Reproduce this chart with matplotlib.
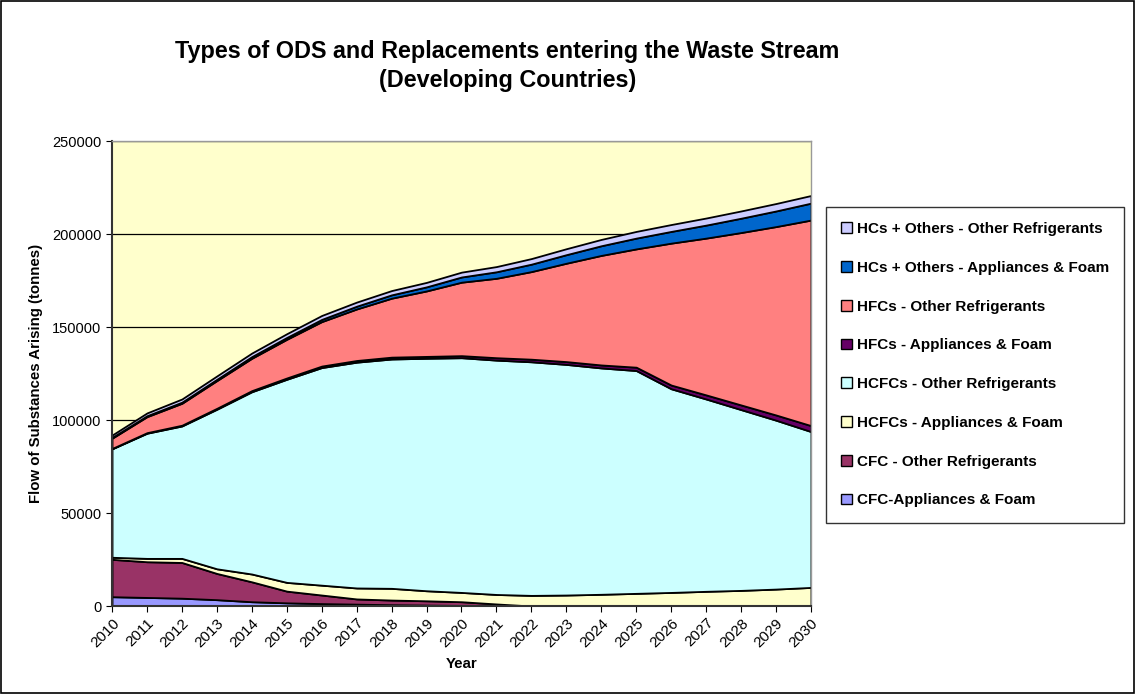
import numpy as np
import matplotlib

matplotlib.use("Agg")
import matplotlib.pyplot as plt
from matplotlib.patches import Rectangle

plt.rcParams["font.family"] = ["Liberation Sans", "DejaVu Sans"]

years = list(range(2010, 2031))

# tonnes por año, de abajo hacia arriba en la pila
cfc_appl = [5000, 4600, 4200, 3400, 2300, 1700, 1300, 1000, 700, 500, 300,
            100, 0, 0, 0, 0, 0, 0, 0, 0, 0]
cfc_other = [20100, 19200, 19200, 14100, 10700, 6300, 4600, 2800, 2500, 2300, 2000,
             1000, 0, 0, 0, 0, 0, 0, 0, 0, 0]
hcfc_appl = [1100, 1800, 2200, 2500, 4200, 4700, 5300, 5900, 6300, 5400, 5000,
             5100, 5700, 5900, 6300, 6800, 7300, 7900, 8400, 9100, 10000]
hcfc_other = [58300, 67300, 71200, 85800, 98000, 109200, 117000, 121400, 123300, 125000, 126200,
              126000, 125600, 124000, 121700, 119800, 109500, 103400, 97200, 90800, 83800]
hfc_appl = [200, 300, 400, 500, 600, 700, 800, 900, 1000, 1000, 1100,
            1300, 1400, 1500, 1600, 1800, 2000, 2200, 2500, 2800, 3200]
hfc_other = [5500, 8600, 11800, 14900, 17400, 20800, 23900, 27700, 31700, 35200, 39500,
             42700, 47100, 52900, 58900, 63600, 76300, 84300, 92700, 101300, 110500]
hc_appl = [400, 500, 600, 700, 900, 1000, 1200, 1500, 1800, 2200, 2800,
           3500, 4000, 4600, 5200, 5800, 6300, 7000, 7700, 8400, 9100]
hc_other = [1300, 1500, 1700, 1800, 1900, 2000, 2100, 2200, 2300, 2400, 2600,
            2800, 3000, 3200, 3400, 3600, 3700, 3800, 3900, 4000, 4100]

labels = ["CFC-Appliances & Foam", "CFC - Other Refrigerants",
          "HCFCs - Appliances & Foam", "HCFCs - Other Refrigerants",
          "HFCs - Appliances & Foam", "HFCs - Other Refrigerants",
          "HCs + Others - Appliances & Foam", "HCs + Others - Other Refrigerants"]
colores = ["#9999FF", "#993366", "#FFFFCC", "#CCFFFF",
           "#660066", "#FF8080", "#0066CC", "#CCCCFF"]

fig = plt.figure(figsize=(11.35, 6.94), dpi=100)
ax = fig.add_axes([0.0987, 0.1268, 0.6158, 0.67])
ax.set_facecolor("#FFFFCC")

series = [cfc_appl, cfc_other, hcfc_appl, hcfc_other, hfc_appl, hfc_other, hc_appl, hc_other]
ax.stackplot(years, *series, colors=colores, labels=labels,
             edgecolor="black", linewidth=1.3, zorder=2)

ax.set_xlim(2010, 2030)
ax.set_ylim(0, 250000)
ax.set_yticks(np.arange(0, 250001, 50000))
ax.set_xticks(years)
ax.set_xticklabels([str(y) for y in years], rotation=45, ha="right",
                   rotation_mode="anchor", fontsize=11)
ax.tick_params(axis="y", labelsize=10.5, direction="out", length=4)
ax.tick_params(axis="x", direction="out", length=4, pad=3)
ax.yaxis.grid(True, color="black", lw=0.9, zorder=0)
ax.set_axisbelow(True)

for s in ["top", "right"]:
    ax.spines[s].set_color("#999999")
    ax.spines[s].set_linewidth(1)
for s in ["left", "bottom"]:
    ax.spines[s].set_color("#333333")
    ax.spines[s].set_linewidth(1.5)

ax.set_xlabel("Year", fontsize=10.8, fontweight="bold", labelpad=5)
ax.set_ylabel("Flow of Substances Arising (tonnes)", fontsize=10.8, fontweight="bold",
              labelpad=7)

fig.text(0.447, 0.905, "Types of ODS and Replacements entering the Waste Stream\n"
         "(Developing Countries)", ha="center", va="center", fontsize=16.8,
         fontweight="bold", linespacing=1.3)

h, l = ax.get_legend_handles_labels()
leg = fig.legend(h[::-1], l[::-1], loc="upper left", bbox_to_anchor=(0.7278, 0.702),
                 frameon=True, fancybox=False, edgecolor="black",
                 prop={"weight": "bold", "size": 11}, handlelength=0.7, handleheight=0.7,
                 handletextpad=0.3, labelspacing=1.62, borderpad=1.0, borderaxespad=0)
leg.get_frame().set_linewidth(1)
for t in leg.get_patches():
    t.set_edgecolor("black")
    t.set_linewidth(1)

fig.add_artist(Rectangle((0.001, 0.001), 0.998, 0.998, transform=fig.transFigure,
                         fill=False, edgecolor="black", lw=1.2))

fig.savefig("out.png", dpi=100)
